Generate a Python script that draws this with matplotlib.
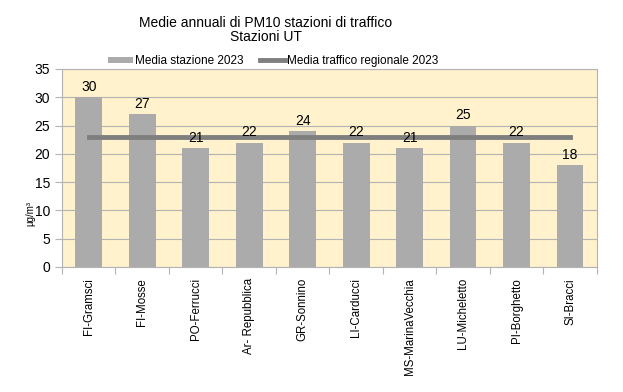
import matplotlib
matplotlib.use('Agg')
import matplotlib.pyplot as plt
import numpy as np

plt.rcParams['font.family'] = ['Liberation Sans', 'DejaVu Sans']

stazioni = ['FI-Gramsci', 'FI-Mosse', 'PO-Ferrucci', 'Ar- Repubblica', 'GR-Sonnino',
            'LI-Carducci', 'MS-MarinaVecchia', 'LU-Micheletto', 'PI-Borghetto', 'SI-Bracci']
media_stazione = [30, 27, 21, 22, 24, 22, 21, 25, 22, 18]
media_regionale = [23, 23, 23, 23, 23, 23, 23, 23, 23, 23]

fig = plt.figure(figsize=(6.23, 3.92), dpi=100)
ax = fig.add_axes([0.0995, 0.319, 0.8585, 0.505])
ax.set_facecolor('#fff2cc')

x = np.arange(len(stazioni))
bars = ax.bar(x, media_stazione, width=0.5, color='#ababab', label='Media stazione 2023', zorder=2)
line, = ax.plot(x, media_regionale, color='#7f7f7f', linewidth=3.5, label='Media traffico regionale 2023', zorder=3)

for xi, v in zip(x, media_stazione):
    ax.text(xi, v + 0.6, str(v), ha='center', va='bottom', fontsize=10)

ax.set_xlim(-0.5, len(stazioni) - 0.5)
ax.set_ylim(0, 35)
ax.set_yticks(range(0, 36, 5))
ax.yaxis.grid(True, color='#b3b3b3', linewidth=0.8, zorder=0)
ax.set_axisbelow(True)

ax.set_xticks(np.arange(-0.5, len(stazioni)), minor=False)
ax.set_xticklabels([])
ax.set_xticks(x, minor=True)
ax.set_xticklabels(stazioni, minor=True, rotation=90, fontsize=8.3)
ax.tick_params(axis='x', which='minor', length=0, pad=8)
ax.tick_params(axis='x', which='major', length=5, color='#b3b3b3')
ax.tick_params(axis='y', length=5, color='#b3b3b3', labelsize=10)

for s in ax.spines.values():
    s.set_color('#b3b3b3')
    s.set_linewidth(0.8)

ax.set_ylabel('µg/m³', fontsize=7)
ax.yaxis.set_label_coords(-0.05, 0.27)

fig.suptitle('Medie annuali di PM10 stazioni di traffico\nStazioni UT', x=0.427, fontsize=10, y=0.96, linespacing=1.05)
ax.legend([bars, line], ['Media stazione 2023', 'Media traffico regionale 2023'],
          loc='lower center', bbox_to_anchor=(0.395, 0.985), ncol=2, frameon=False,
          fontsize=8.5, handlelength=2.1, handleheight=0.5, columnspacing=1.4,
          handletextpad=0.2, borderaxespad=0)

fig.savefig('out.png', dpi=100)
